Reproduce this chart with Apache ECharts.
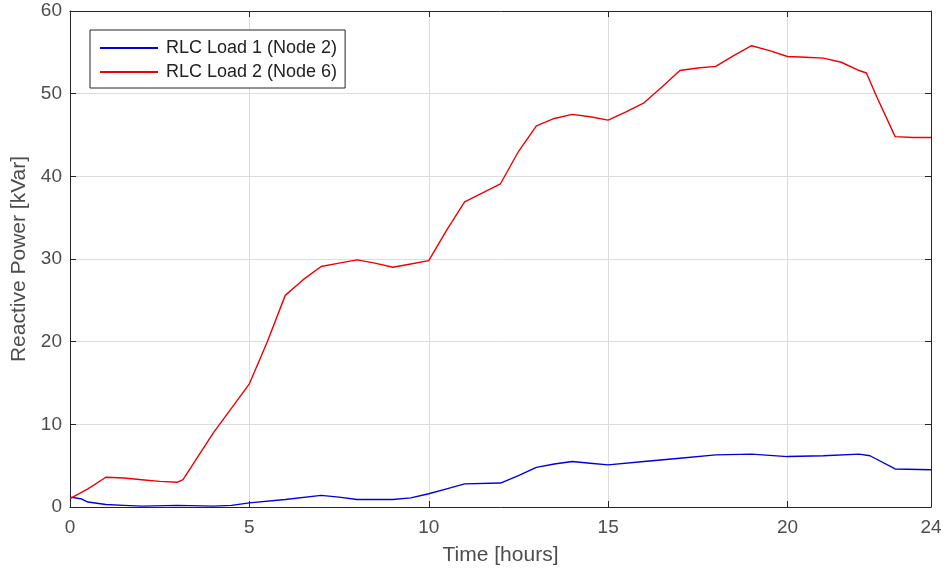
<!DOCTYPE html>
<html>
<head>
<meta charset="utf-8">
<script src="https://cdn.jsdelivr.net/npm/echarts@6/dist/echarts.min.js"></script>
<style>
  html, body { margin: 0; padding: 0; background: #ffffff; }
  #chart { width: 946px; height: 574px; }
</style>
</head>
<body>
<div id="chart"></div>
<script>
// Reactive power of the two RLC loads over one day, [hour, kVar]
const load1Node2 = [
  [0, 1.2], [0.3, 1.0], [0.5, 0.6], [1, 0.3], [1.5, 0.2], [2, 0.1], [3, 0.2],
  [4, 0.1], [4.5, 0.2], [5, 0.5], [6, 0.9], [7, 1.4], [7.5, 1.2], [8, 0.9],
  [9, 0.9], [9.5, 1.1], [10, 1.6], [10.5, 2.2], [11, 2.8], [12, 2.9],
  [12.5, 3.8], [13, 4.8], [13.5, 5.2], [14, 5.5], [14.5, 5.3], [15, 5.1],
  [16, 5.5], [17, 5.9], [18, 6.3], [19, 6.4], [20, 6.1], [21, 6.2], [22, 6.4],
  [22.3, 6.2], [23, 4.6], [24, 4.5]
];
const load2Node6 = [
  [0, 1.0], [0.5, 2.2], [1, 3.6], [1.5, 3.5], [2, 3.3], [2.5, 3.1], [3, 3.0],
  [3.15, 3.3], [4, 9.0], [5, 14.9], [5.5, 20.0], [6, 25.6], [6.5, 27.5],
  [7, 29.1], [7.5, 29.5], [8, 29.9], [8.5, 29.5], [9, 29.0], [9.5, 29.4],
  [10, 29.8], [10.5, 33.5], [11, 36.9], [11.5, 38.0], [12, 39.1], [12.5, 43.0],
  [13, 46.1], [13.5, 47.0], [14, 47.5], [14.5, 47.2], [15, 46.8], [15.5, 47.8],
  [16, 48.9], [16.5, 50.8], [17, 52.8], [17.5, 53.1], [18, 53.3], [18.5, 54.6],
  [19, 55.8], [19.5, 55.2], [20, 54.5], [20.5, 54.4], [21, 54.3], [21.5, 53.8],
  [22, 52.8], [22.2, 52.5], [22.5, 49.5], [23, 44.8], [23.5, 44.7], [24, 44.7]
];
const xTicks = [0, 5, 10, 15, 20, 24];
const yTicks = [0, 10, 20, 30, 40, 50, 60];

const FONT = '"Liberation Sans", Arial, Helvetica, sans-serif';
const AXIS_COLOR = '#262626';
const LABEL_COLOR = '#4d4d4d';
const GRID_COLOR = '#dcdcdc';

const chart = echarts.init(document.getElementById('chart'), null, { renderer: 'canvas' });

// Box edges (top and right) carry inward ticks but no labels
const boxLine = { show: true, onZero: false, lineStyle: { color: AXIS_COLOR, width: 1 } };
const innerTick = (vals) => ({
  show: true, inside: true, length: 6, customValues: vals, lineStyle: { color: AXIS_COLOR }
});

chart.setOption({
  animation: false,
  backgroundColor: '#ffffff',
  grid: { left: 70, right: 15, top: 11, bottom: 67 },
  legend: {
    left: 90, top: 30,
    orient: 'vertical',
    backgroundColor: '#ffffff',
    borderColor: AXIS_COLOR,
    borderWidth: 1,
    padding: [9, 8, 7, 10],
    itemGap: 6,
    itemWidth: 58,
    itemHeight: 2,
    icon: 'rect',
    textStyle: { fontFamily: FONT, fontSize: 18, color: '#222222', padding: [0, 0, 0, 3] },
    data: ['RLC Load 1 (Node 2)', 'RLC Load 2 (Node 6)']
  },
  xAxis: [
    {
      type: 'value', min: 0, max: 24,
      axisLine: boxLine,
      axisTick: innerTick(xTicks),
      axisLabel: { customValues: xTicks, margin: 11, fontFamily: FONT, fontSize: 19, color: LABEL_COLOR },
      splitLine: { show: true, lineStyle: { color: GRID_COLOR, width: 1 } },
      name: 'Time [hours]',
      nameLocation: 'middle',
      nameGap: 38,
      nameTextStyle: { fontFamily: FONT, fontSize: 21, color: LABEL_COLOR }
    },
    {
      type: 'value', min: 0, max: 24, position: 'top',
      axisLine: boxLine,
      axisTick: innerTick(xTicks),
      axisLabel: { show: false, customValues: xTicks },
      splitLine: { show: false }
    }
  ],
  yAxis: [
    {
      type: 'value', min: 0, max: 60, interval: 10,
      axisLine: boxLine,
      axisTick: innerTick(yTicks),
      axisLabel: { customValues: yTicks, margin: 8, fontFamily: FONT, fontSize: 19, color: LABEL_COLOR },
      splitLine: { show: true, lineStyle: { color: GRID_COLOR, width: 1 } },
      name: 'Reactive Power [kVar]',
      nameLocation: 'middle',
      nameGap: 37,
      nameTextStyle: { fontFamily: FONT, fontSize: 21, color: LABEL_COLOR }
    },
    {
      type: 'value', min: 0, max: 60, interval: 10, position: 'right',
      axisLine: boxLine,
      axisTick: innerTick(yTicks),
      axisLabel: { show: false },
      splitLine: { show: false }
    }
  ],
  series: [
    {
      name: 'RLC Load 1 (Node 2)',
      type: 'line',
      data: load1Node2,
      showSymbol: false,
      itemStyle: { color: '#0000d8' },
      lineStyle: { color: '#0000d8', width: 1.4 },
      z: 3
    },
    {
      name: 'RLC Load 2 (Node 6)',
      type: 'line',
      data: load2Node6,
      showSymbol: false,
      itemStyle: { color: '#ee0000' },
      lineStyle: { color: '#ee0000', width: 1.4 },
      z: 3
    }
  ]
});
</script>
</body>
</html>
